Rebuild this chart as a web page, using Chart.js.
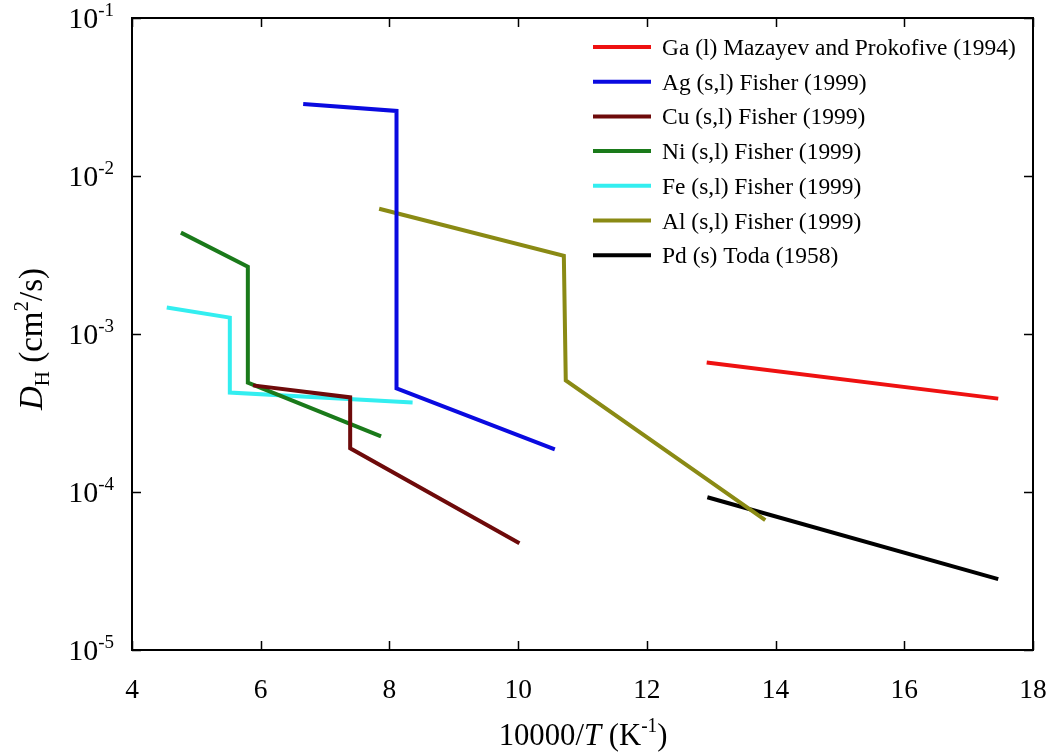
<!DOCTYPE html>
<html><head><meta charset="utf-8">
<script src="https://cdn.jsdelivr.net/npm/chart.js@4/dist/chart.umd.min.js"></script>
<style>html,body{margin:0;padding:0;background:#fff}#wrap{width:1052px;height:755px}</style>
</head><body><div id="wrap"><canvas id="c" width="1052" height="755"></canvas></div>
<script>
// ---- data (x = 10000/T, y = D_H in cm^2/s) ----
const seriesLabels = [
  'Ga (l) Mazayev and Prokofive (1994)',
  'Ag (s,l) Fisher (1999)',
  'Cu (s,l) Fisher (1999)',
  'Ni (s,l) Fisher (1999)',
  'Fe (s,l) Fisher (1999)',
  'Al (s,l) Fisher (1999)',
  'Pd (s) Toda (1958)'
];
const gaX = [12.93, 17.46];
const gaY = [6.6e-4, 3.9e-4];
const agX = [6.66, 8.11, 8.11, 10.57];
const agY = [2.86e-2, 2.58e-2, 4.53e-4, 1.86e-4];
const cuX = [5.88, 7.39, 7.39, 10.02];
const cuY = [4.73e-4, 3.97e-4, 1.89e-4, 4.74e-5];
const niX = [4.76, 5.80, 5.80, 7.87];
const niY = [4.38e-3, 2.67e-3, 4.93e-4, 2.25e-4];
const feX = [4.54, 5.52, 5.52, 8.36];
const feY = [1.47e-3, 1.27e-3, 4.26e-4, 3.69e-4];
const alX = [7.84, 10.71, 10.74, 13.84];
const alY = [6.21e-3, 3.13e-3, 5.08e-4, 6.64e-5];
const pdX = [12.94, 17.46];
const pdY = [9.27e-5, 2.81e-5];
const xTicks = [4, 6, 8, 10, 12, 14, 16, 18];
const yTickExps = [-1, -2, -3, -4, -5];

const colors = ['#ee1111', '#0a0ae0', '#6e0a0a', '#1a7a1a', '#33eef0', '#8a8a14', '#000000'];
const xs = [gaX, agX, cuX, niX, feX, alX, pdX];
const ys = [gaY, agY, cuY, niY, feY, alY, pdY];

const datasets = seriesLabels.map((lab, i) => ({
  label: lab,
  data: xs[i].map((x, j) => ({x: x, y: ys[i][j]})),
  borderColor: colors[i],
  backgroundColor: colors[i],
  borderWidth: 4,
  pointRadius: 0,
  showLine: true,
  fill: false,
  tension: 0
}));

const SERIF = '"Liberation Serif", "Times New Roman", serif';

function richText(ctx, x, y, parts, align, sx) {
  sx = sx || 1;
  let w = 0;
  parts.forEach(p => { ctx.font = (p.italic ? 'italic ' : '') + p.size + 'px ' + SERIF; w += ctx.measureText(p.t).width; });
  w *= sx;
  let x0 = align === 'right' ? x - w : (align === 'center' ? x - w / 2 : x);
  ctx.save();
  ctx.translate(x0, y);
  ctx.scale(sx, 1);
  ctx.textBaseline = 'alphabetic';
  ctx.textAlign = 'left';
  let cx = 0;
  parts.forEach(p => {
    ctx.font = (p.italic ? 'italic ' : '') + p.size + 'px ' + SERIF;
    ctx.fillText(p.t, cx, (p.dy || 0));
    cx += ctx.measureText(p.t).width;
  });
  ctx.restore();
}

const decor = {
  id: 'decor',
  afterDatasetsDraw(chart) {
    const ctx = chart.ctx;
    const a = chart.chartArea;
    const xs_ = chart.scales.x, ys_ = chart.scales.y;
    ctx.save();
    ctx.strokeStyle = '#000';
    ctx.fillStyle = '#000';
    ctx.lineWidth = 2;
    ctx.strokeRect(a.left, a.top, a.right - a.left, a.bottom - a.top);
    const tl = 9;
    ctx.lineWidth = 1.5;
    ctx.beginPath();
    xTicks.forEach(v => {
      const px = Math.round(xs_.getPixelForValue(v)) + 0.5;
      ctx.moveTo(px, a.bottom); ctx.lineTo(px, a.bottom - tl);
      ctx.moveTo(px, a.top); ctx.lineTo(px, a.top + tl);
    });
    yTickExps.forEach(e => {
      const py = Math.round(ys_.getPixelForValue(Math.pow(10, e))) + 0.5;
      ctx.moveTo(a.left, py); ctx.lineTo(a.left + tl, py);
      ctx.moveTo(a.right, py); ctx.lineTo(a.right - tl, py);
    });
    ctx.stroke();
    // x tick labels
    xTicks.forEach(v => {
      richText(ctx, xs_.getPixelForValue(v), a.bottom + 48, [{t: String(v), size: 28}], 'center', 0.98);
    });
    // y tick labels
    yTickExps.forEach(e => {
      const py = ys_.getPixelForValue(Math.pow(10, e));
      richText(ctx, a.left - 18, py + 10, [
        {t: '10', size: 30},
        {t: '-' + Math.abs(e), size: 19, dy: -12}
      ], 'right', 1.0);
    });
    // x title
    richText(ctx, 583, 745, [
      {t: '10000/', size: 32},
      {t: 'T', size: 32, italic: true},
      {t: ' (K', size: 32},
      {t: '-1', size: 20, dy: -13},
      {t: ')', size: 32}
    ], 'center', 0.96);
    // y title
    ctx.save();
    ctx.translate(42, 339);
    ctx.rotate(-Math.PI / 2);
    richText(ctx, 0, 0, [
      {t: 'D', size: 33, italic: true},
      {t: 'H', size: 21, dy: 7},
      {t: ' (cm', size: 33},
      {t: '2', size: 21, dy: -14},
      {t: '/s)', size: 33}
    ], 'center', 1.0);
    ctx.restore();
    // legend
    const lx0 = 593, lx1 = 651, tx = 662, y0 = 47, dyL = 34.7;
    chart.data.datasets.forEach((ds, i) => {
      const yy = y0 + i * dyL;
      ctx.strokeStyle = ds.borderColor;
      ctx.lineWidth = 4;
      ctx.beginPath(); ctx.moveTo(lx0, yy); ctx.lineTo(lx1, yy); ctx.stroke();
      ctx.fillStyle = '#000';
      richText(ctx, tx, yy + 8, [{t: ds.label, size: 23}], 'left', 1.02);
    });
    ctx.restore();
  }
};

new Chart(document.getElementById('c'), {
  type: 'scatter',
  data: { datasets: datasets },
  options: {
    responsive: false,
    animation: false,
    devicePixelRatio: 1,
    layout: { padding: { left: 132, right: 19, top: 18, bottom: 105 } },
    plugins: { legend: { display: false }, tooltip: { enabled: false } },
    scales: {
      x: { type: 'linear', min: 4, max: 18, display: false },
      y: { type: 'logarithmic', min: 1e-5, max: 1e-1, display: false }
    }
  },
  plugins: [decor]
});
</script>
</body></html>
